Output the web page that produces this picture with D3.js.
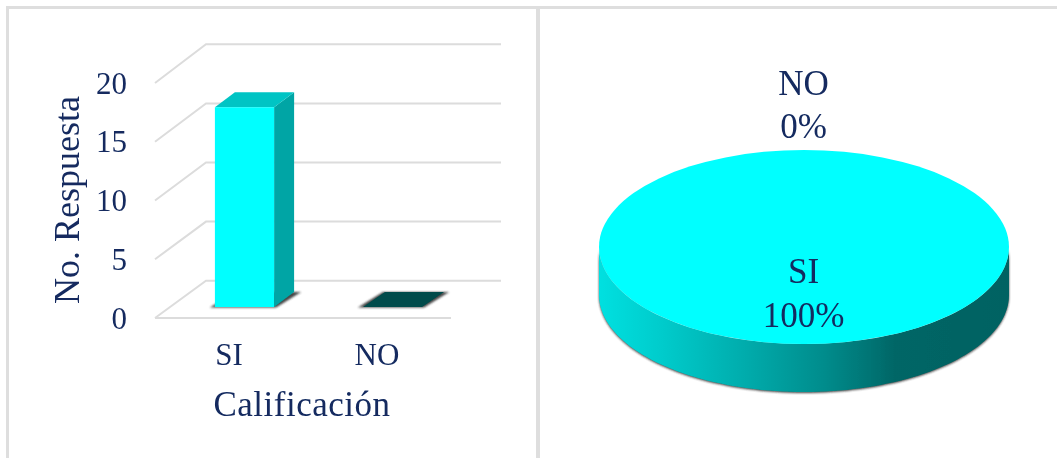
<!DOCTYPE html>
<html><head><meta charset="utf-8">
<script src="https://cdn.jsdelivr.net/npm/d3@7"></script>
<style>
html,body{margin:0;padding:0;background:#fff;overflow:hidden}
svg{display:block}
text{font-family:"Liberation Serif","Times New Roman",serif;fill:#12295f}
</style></head><body>
<div id="chart"></div>
<script>
const categories = ["SI","NO"];
const respuestas = [17,0];
const porcentajes = [100,0];
const tickValues = [0,5,10,15,20];
const yTitle = "No. Respuesta";
const xTitle = "Calificación";

const W=1057,H=458;
const svg=d3.select("#chart").append("svg").attr("width",W).attr("height",H);
const defs=svg.append("defs");
const blur=(id,s)=>defs.append("filter").attr("id",id).attr("x","-20%").attr("y","-20%").attr("width","140%").attr("height","140%")
  .append("feGaussianBlur").attr("stdDeviation",s);
blur("soft",1.3);
blur("crisp",0.45);
const root=svg.append("g").attr("filter","url(#crisp)");

// panel frames
const frameColor="#dedede";
root.append("path").attr("d","M7.5 458V7.5H1057").attr("fill","none").attr("stroke",frameColor).attr("stroke-width",3);
root.append("line").attr("x1",538).attr("x2",538).attr("y1",7).attr("y2",458).attr("stroke",frameColor).attr("stroke-width",4);

// ---- 3D column chart ----
const barDepth={dx:20,dy:-15};
const y=d3.scaleLinear().domain([0,20]).range([318,83]);
const yBack=d3.scaleLinear().domain([0,20]).range([280.7,44.3]);
const barY=d3.scaleLinear().domain([0,20]).range([307,72]);
const xLabel=d3.scaleBand().domain(categories).range([155,451]);
const xBar=d3.scaleBand().domain(categories).range([170.5,466.5]).paddingInner(.6).paddingOuter(.3);

const grid=root.append("g").attr("fill","none").attr("stroke","#dcdcdc").attr("stroke-width",2);
tickValues.forEach(t=>{
  const x0=xLabel.range()[0];
  const pts=[[x0,y(t)],[x0+51,yBack(t)],[xLabel.range()[1]+50,yBack(t)]];
  grid.append("path").attr("d",d3.line()(pts));
});
grid.append("line").attr("x1",155).attr("x2",451).attr("y1",y(0)).attr("y2",y(0));

categories.forEach((c,i)=>{
  const v=respuestas[i],x0=xBar(c),x1=x0+xBar.bandwidth(),yb=barY(0),yt=barY(v);
  const d=barDepth;
  const line=d3.line();
  // floor shadow
  root.append("path").attr("d",line([[x0-5,yb+.5],[x1+2,yb+.5],[x1+d.dx+7,yb+d.dy],[x0+d.dx,yb+d.dy]])+"Z")
    .attr("fill","#333").attr("filter","url(#soft)").attr("opacity",.9);
  if(v>0){
    root.append("path").attr("d",line([[x1,yt],[x1+d.dx,yt+d.dy],[x1+d.dx,yb+d.dy],[x1,yb]])+"Z").attr("fill","#00a5a5");
    root.append("path").attr("d",line([[x0,yt],[x1,yt],[x1+d.dx,yt+d.dy],[x0+d.dx,yt+d.dy]])+"Z").attr("fill","#00c4c4");
    root.append("rect").attr("x",x0).attr("y",yt).attr("width",x1-x0).attr("height",yb-yt).attr("fill","#00ffff");
  } else {
    root.append("path").attr("d",line([[x0,yb],[x1,yb],[x1+d.dx+2,yb+d.dy],[x0+d.dx+2,yb+d.dy]])+"Z").attr("fill","#004b4b");
  }
});

// tick labels
root.append("g").selectAll("text").data(tickValues).join("text")
  .attr("x",127).attr("y",t=>y(t)+10.5).attr("text-anchor","end").attr("font-size",31).text(d=>d);
root.append("g").selectAll("text").data(categories).join("text")
  .attr("x",c=>xLabel(c)+xLabel.bandwidth()/2).attr("y",365).attr("text-anchor","middle").attr("font-size",31).text(d=>d);
root.append("text").attr("transform","translate(79,200) rotate(-90)").attr("text-anchor","middle").attr("font-size",36).text(yTitle);
root.append("text").attr("x",302).attr("y",416).attr("text-anchor","middle").attr("font-size",35).attr("letter-spacing",0.5).text(xTitle);

// ---- 3D pie ----
const cx=804,cy=247,rx=205,ry=97,pieDepth=48;
const arcs=d3.pie().sort(null).value(d=>d)(porcentajes);
const arc=d3.arc().innerRadius(0).outerRadius(rx);
const pieG=root.append("g");
const grad=defs.append("linearGradient").attr("id","side").attr("gradientUnits","userSpaceOnUse")
  .attr("x1",cx-rx).attr("x2",cx+rx).attr("y1",0).attr("y2",0);
[[0,"#00e0e0"],[.15,"#00cccc"],[.35,"#00adad"],[.55,"#008c8c"],[.68,"#007070"],[.72,"#006666"],[1,"#006262"]]
  .forEach(([o,c])=>grad.append("stop").attr("offset",o).attr("stop-color",c));
const angles=d3.range(90,271,2).map(a=>a*Math.PI/180);
const side=d3.area().x(a=>cx+rx*Math.sin(a)).y0(a=>cy-ry*Math.cos(a)).y1(a=>cy-ry*Math.cos(a)+pieDepth);
pieG.append("path").attr("d",side(angles)).attr("fill","#222").attr("filter","url(#soft)").attr("transform","translate(0,1)").attr("opacity",.85);
pieG.append("path").attr("d",side(angles)).attr("fill","url(#side)");
pieG.selectAll("path.top").data(arcs.filter(d=>d.value>0)).join("path").attr("class","top")
  .attr("transform",`translate(${cx},${cy}) scale(1,${ry/rx})`).attr("d",arc).attr("fill","#00ffff");

const pieLabels=[[categories[1],95],[porcentajes[1]+"%",138],[categories[0],283],[porcentajes[0]+"%",327]];
root.append("g").selectAll("text").data(pieLabels).join("text")
  .attr("x",803.5).attr("y",d=>d[1]).attr("text-anchor","middle").attr("font-size",35).text(d=>d[0]);
</script>
</body></html>
